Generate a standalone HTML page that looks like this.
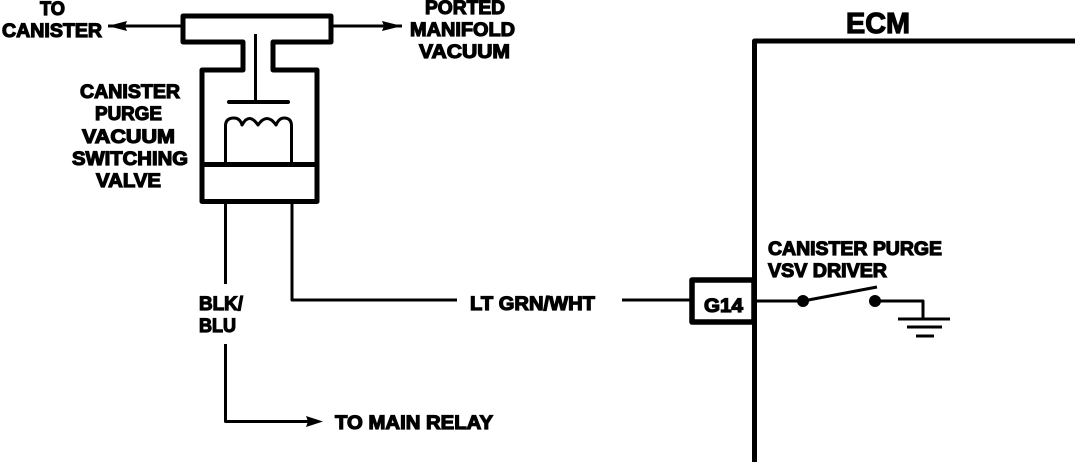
<!DOCTYPE html>
<html><head><meta charset="utf-8"><style>
html,body{margin:0;padding:0;background:#fff}
svg{display:block}
text{font-family:"Liberation Sans",sans-serif;font-weight:700;fill:#000;stroke:#000;stroke-width:1.2px}
</style></head><body>
<svg width="1088" height="462" viewBox="0 0 1088 462" xmlns="http://www.w3.org/2000/svg">
<rect width="1088" height="462" fill="#fff"/>
<g fill="none" stroke="#000" stroke-linejoin="round">
<path stroke-width="5" d="M183,16 H331 V42 H273 V70 H317 V201.500 H202 V70 H243 V42 H183 Z"/>
<path stroke-width="5" d="M202,164.500 H317"/>
<path stroke-width="3" d="M255.500,34 V101"/>
<path stroke-width="4" stroke-linecap="round" d="M229,102 H288"/>
<path stroke-width="3" d="M225.500,164 V126 Q225.500,118 234,118 Q240,118 242,125 Q249,112 258,125 Q267,112 276,125 Q279,118 284,118 Q291.500,118 291.500,126 V164"/>
<path stroke-width="3" d="M108,26 H183 M331,26 H402"/>
<path stroke-width="3" d="M225.500,204 V284 M225.500,344 V421.500 H312"/>
<path stroke-width="3" d="M292,204 V300 H457 M622,300 H692"/>
<path stroke-width="5" d="M1075,41 H754.500 V462"/>
<rect x="692" y="280" width="62" height="42" stroke-width="5.500" fill="#fff"/>
<path stroke-width="5" d="M754.500,275 V330"/>
<path stroke-width="3" d="M755,301 H803 L877,287 M875,301 H923 V319 M898,319 H950 M907,327 H942 M916,336 H934"/>
</g>
<path d="M108,26 L127,21 L125,26 L127,31 Z M402,26 L382,21 L384,26 L382,31 Z M323,421.500 L306,416 L308,421.500 L306,427 Z"/>
<circle cx="803" cy="301" r="6"/>
<circle cx="875" cy="301" r="6"/>
<g font-size="19">
<text x="40" y="15" textLength="25" lengthAdjust="spacingAndGlyphs">TO</text>
<text x="2" y="37" textLength="100" lengthAdjust="spacingAndGlyphs">CANISTER</text>
<text x="425" y="14" textLength="80" lengthAdjust="spacingAndGlyphs">PORTED</text>
<text x="410" y="36" textLength="105" lengthAdjust="spacingAndGlyphs">MANIFOLD</text>
<text x="419" y="58" textLength="91" lengthAdjust="spacingAndGlyphs">VACUUM</text>
<text x="80" y="98" textLength="100" lengthAdjust="spacingAndGlyphs">CANISTER</text>
<text x="95" y="120" textLength="67" lengthAdjust="spacingAndGlyphs">PURGE</text>
<text x="82" y="143" textLength="93" lengthAdjust="spacingAndGlyphs">VACUUM</text>
<text x="72" y="165" textLength="116" lengthAdjust="spacingAndGlyphs">SWITCHING</text>
<text x="96" y="187" textLength="65" lengthAdjust="spacingAndGlyphs">VALVE</text>
<text x="768" y="255" textLength="174" lengthAdjust="spacingAndGlyphs">CANISTER PURGE</text>
<text x="768" y="277" textLength="119" lengthAdjust="spacingAndGlyphs">VSV DRIVER</text>
<text x="704" y="312" textLength="39" lengthAdjust="spacingAndGlyphs">G14</text>
<text x="199" y="310" textLength="44" lengthAdjust="spacingAndGlyphs">BLK/</text>
<text x="199" y="332" textLength="37" lengthAdjust="spacingAndGlyphs">BLU</text>
<text x="470" y="310" textLength="125" lengthAdjust="spacingAndGlyphs">LT GRN/WHT</text>
<text x="335" y="429" textLength="158" lengthAdjust="spacingAndGlyphs">TO MAIN RELAY</text>
</g>
<text x="846" y="33" font-size="29" textLength="64" lengthAdjust="spacingAndGlyphs">ECM</text>
</svg>
</body></html>
